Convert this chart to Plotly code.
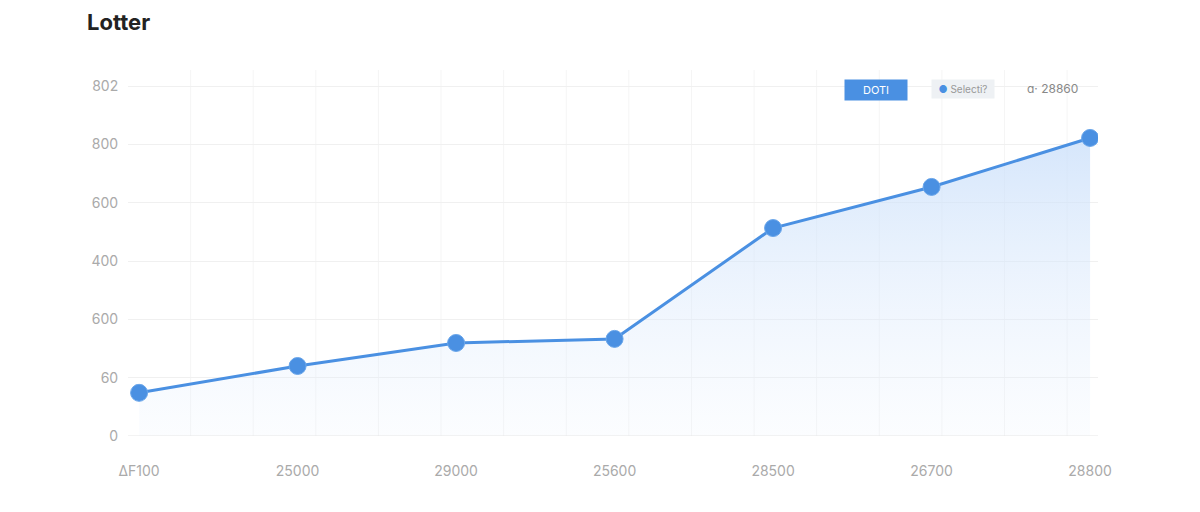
import plotly.graph_objects as go

x_idx = [0, 1, 2, 3, 4, 5, 6]
x_labels = ["ΔF100", "25000", "29000", "25600", "28500", "26700", "28800"]
values = [148, 240, 319, 333, 713, 854, 1022]
y_ticks = [0, 200, 400, 600, 800, 1000, 1200]
y_labels = ["0", "60", "600", "400", "600", "800", "802"]

L, T, W, H = 120, 62, 970, 366

def px(xp):
    return (xp - 8 - L) / W

def py(yp):
    return (T + H - (yp - 8)) / H

fig = go.Figure()
fig.add_trace(go.Scatter(
    x=x_idx, y=values, mode="lines+markers",
    line=dict(color="#4a90e2", width=3),
    marker=dict(size=17, color="#4a90e2", line=dict(color="#6aa6ea", width=1)),
    fill="tozeroy",
    fillgradient=dict(type="vertical", colorscale=[[0, "rgba(230,240,253,0.15)"], [1, "rgba(200,222,250,0.75)"]]),
    showlegend=False,
))
fig.update_layout(
    width=1200, height=512,
    margin=dict(l=L, r=1200 - L - W, t=T, b=512 - T - H),
    paper_bgcolor="white", plot_bgcolor="white",
    font=dict(family="Inter, Roboto, sans-serif", color="#888"),
    title=dict(text="<b>Lotter</b>", x=79 / 1200, xanchor="left", y=1 - 14 / 512, yanchor="middle",
               font=dict(size=22, color="#222")),
    xaxis=dict(range=[-0.07, 6.05], tickvals=x_idx, ticktext=x_labels,
               showgrid=False, zeroline=False, showline=False,
               ticks="outside", ticklen=22, tickcolor="rgba(0,0,0,0)",
               tickfont=dict(size=14, color="#aaa")),
    yaxis=dict(range=[0, 1255], tickvals=y_ticks, ticktext=y_labels,
               gridcolor="#f0f0f0", zeroline=False, showline=False,
               ticks="outside", ticklen=6, tickcolor="rgba(0,0,0,0)",
               tickfont=dict(size=14, color="#aaa")),
)
for i in range(16):
    xv = -0.07 + 0.395 * (i + 1)
    if xv < 6.05:
        fig.add_shape(type="line", xref="x", yref="paper", x0=xv, x1=xv, y0=0, y1=1,
                      line=dict(color="#f5f5f5", width=1), layer="below")
fig.add_shape(type="line", xref="paper", yref="y", x0=0, x1=1, y0=0, y1=0,
              line=dict(color="#e6e6e6", width=1))
fig.add_annotation(xref="paper", yref="paper", x=px(908), y=py(79), text="DOTI",
                   showarrow=False, font=dict(size=11, color="white"),
                   bgcolor="#4a90e2", borderpad=3, width=56)
fig.add_annotation(xref="paper", yref="paper", x=px(995), y=py(79),
                   text="<span style='color:#4a90e2'>●</span> Selecti?",
                   showarrow=False, font=dict(size=10, color="#999"),
                   bgcolor="#eef1f4", borderpad=3, width=56)
fig.add_annotation(xref="paper", yref="paper", x=px(1080), y=py(79), text="ɑ· 28860",
                   showarrow=False, font=dict(size=12, color="#888"))
fig.write_html("out.html")
